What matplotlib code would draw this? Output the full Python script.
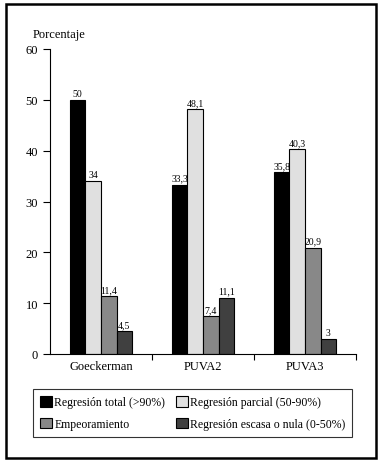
import numpy as np
import matplotlib
matplotlib.use("Agg")
import matplotlib.pyplot as plt
from matplotlib.patches import Rectangle

plt.rcParams['font.family'] = ['Liberation Serif', 'DejaVu Serif']

categories = ["Goeckerman", "PUVA2", "PUVA3"]
series_names = ["Regresión total (>90%)", "Regresión parcial (50-90%)",
                "Empeoramiento", "Regresión escasa o nula (0-50%)"]
total = [50, 33.3, 35.8]
parcial = [34, 48.1, 40.3]
empeora = [11.4, 7.4, 20.9]
escasa = [4.5, 11.1, 3]
colors = ["#000000", "#e0e0e0", "#888888", "#404040"]

W, H = 382, 464
fig = plt.figure(figsize=(W / 100, H / 100), dpi=100)

# outer frame
fig.patches.append(Rectangle((6 / W, 1 - 459 / H), 370 / W, 454 / H,
                             transform=fig.transFigure, fill=False,
                             edgecolor="black", linewidth=1.8))

ax = fig.add_axes([50 / W, 1 - 355 / H, 306 / W, 305 / H])
x = np.arange(len(categories))
bw = 0.152
series = [total, parcial, empeora, escasa]
bars = []
for i, vals in enumerate(series):
    pos = x + (i - 1.5) * bw
    b = ax.bar(pos, vals, bw, color=colors[i], edgecolor="black",
               linewidth=0.8, label=series_names[i])
    bars.append(b)
    for p, v in zip(pos, vals):
        txt = ("%g" % v).replace(".", ",")
        ax.text(p, v + 0.4, txt, ha="center", va="bottom", fontsize=7)

ax.set_xlim(-0.5, 2.5)
ax.set_ylim(0, 60)
ax.set_yticks(range(0, 61, 10))
ax.set_xticks([0.5, 1.5, 2.5])
ax.set_xticklabels([])
ax.set_xticks(x, minor=True)
ax.set_xticklabels(categories, minor=True)
ax.tick_params(axis="x", which="minor", length=0, labelsize=9, pad=4)
ax.tick_params(axis="x", which="major", length=4, width=0.8)
ax.tick_params(axis="y", length=5, width=0.8, labelsize=9)
for s in ["top", "right"]:
    ax.spines[s].set_visible(False)
for s in ["left", "bottom"]:
    ax.spines[s].set_linewidth(0.8)

fig.text(33 / W, 1 - 35 / H, "Porcentaje", fontsize=9, va="center", ha="left")

# row-wise order: total, parcial / empeoramiento, escasa
order = [0, 2, 1, 3]
leg = fig.legend(handles=[bars[i] for i in order],
                 labels=[series_names[i] for i in order], ncol=2,
                 loc="upper left", bbox_to_anchor=(33 / W, 1 - 390 / H),
                 fontsize=8.5, frameon=True, fancybox=False, edgecolor="black",
                 handlelength=1.0, handleheight=1.0, handletextpad=0.2,
                 columnspacing=0.9, borderpad=0.6, labelspacing=0.8,
                 borderaxespad=0)
leg.get_frame().set_linewidth(0.8)

fig.savefig("out.png", dpi=100)
